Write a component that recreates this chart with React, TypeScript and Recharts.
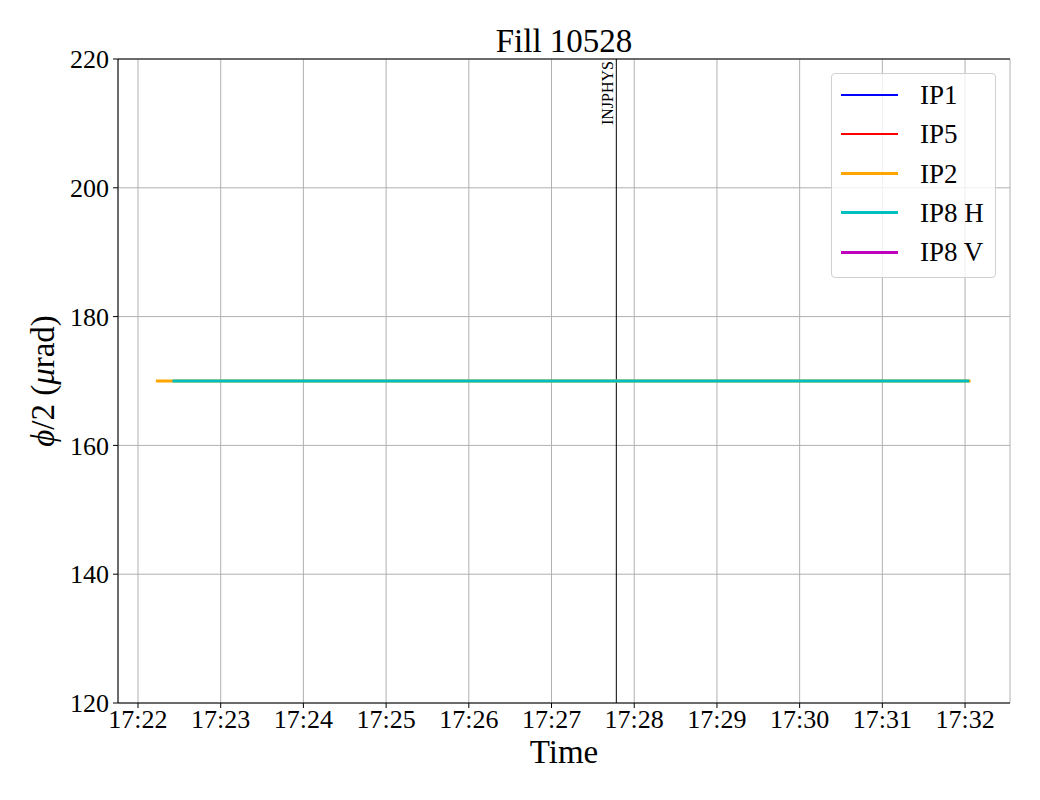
import React from "react";
import {
  LineChart,
  Line,
  XAxis,
  YAxis,
  CartesianGrid,
  ReferenceLine,
  Label,
} from "recharts";

// time is seconds after 17:22:00
const X_TICKS = [0, 60, 120, 180, 240, 300, 360, 420, 480, 540, 600];
const Y_TICKS = [120, 140, 160, 180, 200, 220];

const IP1_T: number[] = [];
const IP1_Y: number[] = [];
const IP5_T: number[] = [];
const IP5_Y: number[] = [];
const IP2_T = [13, 604];
const IP2_Y = [170, 170];
const IP8H_T = [25, 603];
const IP8H_Y = [170, 170];
const IP8V_T: number[] = [];
const IP8V_Y: number[] = [];

const MODE_CHANGE_T = 347;
const MODE_CHANGE_LABEL = "INJPHYS";

const SERIES = [
  { name: "IP1", color: "#0000ff", width: 2, t: IP1_T, y: IP1_Y },
  { name: "IP5", color: "#ff0000", width: 2, t: IP5_T, y: IP5_Y },
  { name: "IP2", color: "#ffa500", width: 3, t: IP2_T, y: IP2_Y },
  { name: "IP8 H", color: "#00bfbf", width: 3, t: IP8H_T, y: IP8H_Y },
  { name: "IP8 V", color: "#bf00bf", width: 3, t: IP8V_T, y: IP8V_Y },
];

const FONT = "'Liberation Serif', 'DejaVu Serif', serif";

const fmtTime = (s: number) => {
  const m = 17 * 60 + 22 + Math.round(s / 60);
  return `${Math.floor(m / 60)}:${String(m % 60).padStart(2, "0")}`;
};

function LegendBox() {
  return (
    <div
      style={{
        position: "absolute",
        left: 831,
        top: 73,
        width: 165,
        height: 205,
        border: "1px solid #d0d0d0",
        borderRadius: 4,
        background: "rgba(255,255,255,0.8)",
        boxSizing: "border-box",
        fontFamily: FONT,
        fontSize: 27,
      }}
    >
      {SERIES.map((s, i) => (
        <div
          key={s.name}
          style={{
            position: "absolute",
            left: 0,
            top: 21 + i * 39.3 - 16,
            height: 32,
            display: "flex",
            alignItems: "center",
          }}
        >
          <div
            style={{
              marginLeft: 9,
              width: 57,
              height: s.width,
              background: s.color,
            }}
          />
          <span style={{ marginLeft: 22, lineHeight: "32px", whiteSpace: "nowrap" }}>
            {s.name}
          </span>
        </div>
      ))}
    </div>
  );
}

export default function App() {
  return (
    <div
      style={{
        position: "absolute",
        left: 0,
        top: 0,
        width: 1040,
        height: 800,
        background: "#fff",
      }}
    >
      <LineChart
        width={1040}
        height={800}
        margin={{ top: 59, right: 30, bottom: 0, left: 0 }}
      >
        <CartesianGrid stroke="#b0b0b0" strokeWidth={1} />
        <XAxis
          type="number"
          dataKey="t"
          domain={[-14.5, 632.6]}
          allowDataOverflow
          ticks={X_TICKS}
          tickFormatter={fmtTime}
          height={97}
          stroke="#000"
          tickSize={5}
          tickMargin={2}
          tick={{ fill: "#000", fontSize: 26, fontFamily: FONT }}
        >
          <Label
            content={({ viewBox }: any) => (
              <text
                x={viewBox.x + viewBox.width / 2}
                y={763}
                textAnchor="middle"
                fontFamily={FONT}
                fontSize={33}
                fill="#000"
              >
                Time
              </text>
            )}
          />
        </XAxis>
        <YAxis
          type="number"
          domain={[120, 220]}
          allowDataOverflow
          ticks={Y_TICKS}
          width={118}
          stroke="#000"
          tickSize={5}
          tickMargin={4}
          tick={{ fill: "#000", fontSize: 26, fontFamily: FONT }}
        >
          <Label
            content={({ viewBox }: any) => {
              const cx = 54;
              const cy = viewBox.y + viewBox.height / 2;
              return (
                <text
                  x={cx}
                  y={cy}
                  transform={`rotate(-90, ${cx}, ${cy})`}
                  textAnchor="middle"
                  fontFamily={FONT}
                  fontSize={33}
                  fill="#000"
                >
                  <tspan fontStyle="italic">ϕ</tspan>
                  <tspan>/2 (</tspan>
                  <tspan fontStyle="italic">μ</tspan>
                  <tspan>rad)</tspan>
                </text>
              );
            }}
          />
        </YAxis>
        <YAxis
          yAxisId="right"
          orientation="right"
          type="number"
          domain={[120, 220]}
          width={0}
          tick={false}
          tickLine={false}
          stroke="#000"
        />
        <ReferenceLine y={220} stroke="#000" strokeWidth={1} />
        <ReferenceLine
          x={MODE_CHANGE_T}
          stroke="#000"
          strokeWidth={1}
          label={(props: any) => {
            const vb = props.viewBox;
            const x = vb.x - 3;
            const y = vb.y + 2;
            return (
              <text
                x={x}
                y={y}
                transform={`rotate(-90, ${x}, ${y})`}
                textAnchor="end"
                fontFamily={FONT}
                fontSize={16}
                fill="#000"
              >
                {MODE_CHANGE_LABEL}
              </text>
            );
          }}
        />
        {SERIES.map((s) => (
          <Line
            key={s.name}
            name={s.name}
            data={s.t.map((t, i) => ({ t, v: s.y[i] }))}
            dataKey="v"
            type="linear"
            stroke={s.color}
            strokeWidth={s.width}
            dot={false}
            activeDot={false}
            isAnimationActive={false}
          />
        ))}
      </LineChart>
      <div
        style={{
          position: "absolute",
          left: 118,
          width: 892,
          top: 22,
          textAlign: "center",
          fontFamily: FONT,
          fontSize: 33,
          lineHeight: "38px",
        }}
      >
        Fill 10528
      </div>
      <LegendBox />
    </div>
  );
}
